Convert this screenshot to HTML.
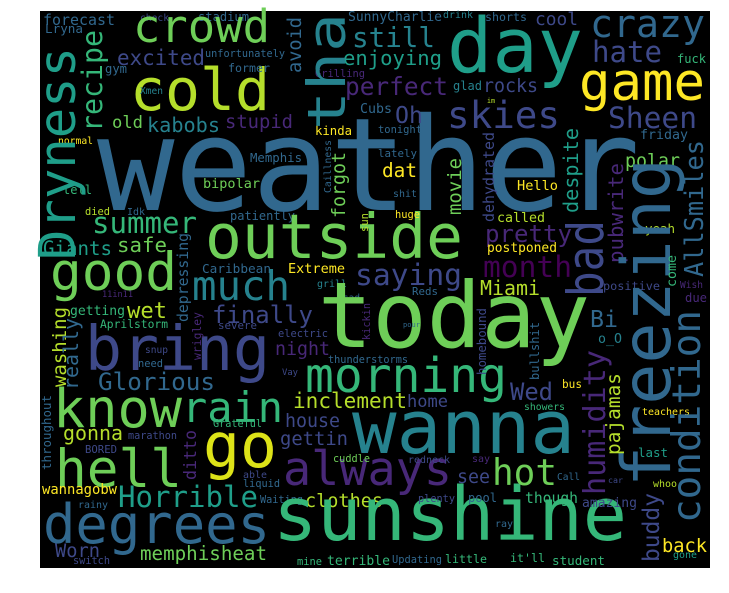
<!DOCTYPE html>
<html><head><meta charset="utf-8"><style>
html,body{margin:0;padding:0;background:#fff;width:729px;height:593px;overflow:hidden}
svg{display:block}
text{font-family:"DejaVu Sans Mono","Liberation Mono",monospace}
</style></head><body>
<svg id="cloud" width="729" height="593" viewBox="0 0 729 593">
<rect x="40" y="11" width="670" height="557" fill="#000"/>
</svg>
<script>
const P=['#440154','#482878','#3e4989','#31688e','#26828e','#1f9e89','#35b779','#6ece58','#b5de2b','#fde725','#dde318'];
// horizontal words: text, left, right, baseline, colour index
const hWords=[
['weather',97,640,210,3],['forecast',43,115,25,3],['check',140,169,21,2],['stadium',198,249,21,3],['Lryna',45,83,33,3],
['crowd',133,270,42,7],['excited',117,205,65,2],['cold',130,270,110,8],['unfortunately',205,285,57,3],['gym',105,127,73,3],
['former',228,270,72,3],['Grilling',315,365,77,1],['Xmen',140,163,94,4],['old',112,143,128,7],['kabobs',147,220,132,4],
['stupid',225,293,128,1],['Cubs',360,392,113,3],['kinda',315,352,135,9],['normal',58,93,144,9],['Memphis',250,302,162,3],
['bipolar',203,260,188,7],['tell',63,92,194,6],['died',85,110,215,8],['Idk',127,145,215,3],['patiently',230,295,220,3],
['summer',92,197,233,6],['outside',205,463,258,7],['Giants',43,112,255,5],['safe',117,167,252,7],['Caribbean',202,271,273,3],
['Extreme',288,345,273,9],['grill',317,347,287,4],['good',50,177,290,7],['much',192,290,300,4],['saying',355,462,285,2],
['SunnyCharlie',348,442,21,3],['drink',443,473,18,4],['shorts',485,527,21,3],['cool',535,578,25,2],['crazy',590,705,37,3],
['day',447,583,72,5],['still',352,435,47,4],['hate',592,662,62,2],['enjoying',343,442,65,5],['fuck',677,706,63,6],
['game',579,705,100,9],['perfect',345,448,95,1],['glad',453,482,90,4],['rocks',483,538,92,2],['im',487,495,103,8],
['Oh',395,423,123,2],['skies',447,560,128,2],['Sheen',608,697,128,2],['tonight',378,422,133,3],['friday',640,688,139,3],
['lately',378,417,157,3],['polar',625,680,167,7],['dat',382,417,177,9],['Hello',517,558,190,9],['shit',393,417,197,3],
['huge',395,420,218,9],['called',497,545,222,8],['pretty',485,572,242,1],['yeah',645,675,233,8],['postponed',487,557,252,9],
['month',483,572,277,0],['Wish',680,703,288,1],['positive',603,660,290,2],['Miami',480,540,295,8],['Reds',412,438,295,3],
['due',685,707,302,1],['11in11',102,133,297,1],['sad',343,360,301,3],['wet',127,167,318,8],['getting',70,125,315,6],
['finally',212,313,323,2],['Aprilstorm',100,168,328,6],['severe',218,257,329,2],['electric',278,328,337,2],['bring',85,270,370,2],
['snup',145,168,353,2],['need',138,163,367,3],['night',275,330,355,1],['thunderstorms',328,408,363,3],['Vay',282,298,375,2],
['Glorious',98,215,390,3],['morning',305,507,392,6],['know',53,182,427,7],['rain',182,283,422,6],['inclement',293,407,408,8],
['home',407,448,407,2],['Wed',510,553,400,2],['house',285,340,427,2],['Grateful',213,262,427,6],['gonna',63,123,440,8],
['marathon',128,177,439,2],['go',203,277,467,10],['gettin',280,348,445,2],['BORED',85,117,453,2],['hell',55,182,487,7],
['always',283,452,485,1],['cuddle',333,370,462,7],['able',243,267,478,2],['liquid',243,280,487,3],['wannagobw',42,117,494,9],
['Horrible',118,258,507,5],['Waiting',260,303,503,3],['clothes',305,383,507,8],['rainy',78,108,508,3],['degrees',43,270,543,3],
['sunshine',273,627,540,6],['Worn',55,100,557,2],['memphisheat',140,267,560,7],['switch',73,110,564,2],['mine',297,322,565,6],
['terrible',327,390,565,6],['today',318,590,347,7],['pour',403,420,327,3],['Bi',590,618,327,3],['o_O',598,622,343,4],
['bus',562,582,388,9],['showers',524,565,410,6],['teachers',642,690,415,9],['wanna',352,575,453,4],['last',638,668,457,5],
['redneck',408,450,463,2],['say',472,490,462,1],['see',457,490,483,2],['hot',492,557,485,7],['Call',557,580,480,3],
['car',608,623,483,2],['whoo',653,677,487,8],['plenty',418,455,502,2],['pool',468,497,502,3],['though',525,578,503,6],
['amazing',582,637,507,2],['ray',495,513,527,3],['back',662,707,552,9],['gone',673,697,558,5],['Updating',392,442,563,3],
['little',445,487,563,6],["it'll",510,545,562,6],['student',552,605,565,6]
];
// vertical words: text, baseline x, top y, bottom y, colour index, optional font size
const vWords=[
['tha',345,13,130,4,53],['recipe',102,30,132,6],['Dryness',75,47,260,5],['avoid',301,17,73,3],['Caillness',331,140,193,3],
['forgot',345,152,218,7],['sun',368,213,232,8],['depressing',188,233,322,3],['despite',578,128,213,5],['dehydrated',494,132,222,2],
['AllSmiles',703,140,277,3],['movie',461,158,215,7],['pubwrite',623,163,263,1],['freezing',670,158,487,3,68],['bad',603,220,297,2,50],
['come',676,255,287,6],['washing',66,307,387,8],['really',78,318,390,3],['wrigley',201,312,360,1],['kickin',370,303,340,1],
['throughout',51,395,470,3],['ditto',196,430,480,1],['homebound',486,308,375,2],['bullshit',539,322,380,3],
['condition',700,310,523,3],['humidity',605,350,495,1],['pajamas',620,373,455,8],['buddy',659,493,562,2]
];
const svg=document.getElementById('cloud');
const NS='http://www.w3.org/2000/svg';
function slug(s){return s.toLowerCase().replace(/[^a-z0-9]+/g,'-');}
hWords.forEach(w=>{
  const t=document.createElementNS(NS,'text');
  const len=w[2]-w[1];
  const size=len/(w[0].length*0.6);
  t.setAttribute('x',w[1]);
  t.setAttribute('y',w[3]);
  t.setAttribute('font-size',size.toFixed(1));
  t.setAttribute('textLength',len);
  t.setAttribute('lengthAdjust','spacingAndGlyphs');
  t.setAttribute('fill',P[w[4]]);
  
  
  t.textContent=w[0];
  svg.appendChild(t);
});
vWords.forEach(w=>{
  const t=document.createElementNS(NS,'text');
  const len=w[3]-w[2];
  const size=w[5]||len/(w[0].length*0.6);
  t.setAttribute('transform','translate('+w[1]+','+w[3]+') rotate(-90)');
  t.setAttribute('x',0);
  t.setAttribute('y',0);
  t.setAttribute('font-size',size.toFixed(1));
  t.setAttribute('textLength',len);
  t.setAttribute('lengthAdjust','spacingAndGlyphs');
  t.setAttribute('fill',P[w[4]]);
  
  
  t.textContent=w[0];
  svg.appendChild(t);
});
</script>
</body></html>
